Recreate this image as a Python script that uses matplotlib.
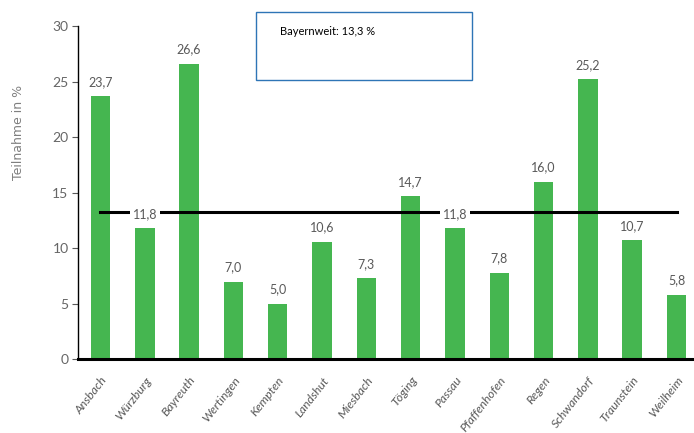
import matplotlib

matplotlib.use("Agg")
import matplotlib.pyplot as plt  # noqa: E402
from matplotlib.patches import Rectangle  # noqa: E402

# Teilnahme je Standort (%)
standorte = [
    "Ansbach", "Würzburg", "Bayreuth", "Wertingen", "Kempten", "Landshut",
    "Miesbach", "Töging", "Passau", "Pfaffenhofen", "Regen", "Schwandorf",
    "Traunstein", "Weilheim",
]
teilnahme = [23.7, 11.8, 26.6, 7.0, 5.0, 10.6, 7.3, 14.7, 11.8, 7.8, 16.0, 25.2, 10.7, 5.8]
bayernweit = 13.3
y_ticks = [0, 5, 10, 15, 20, 25, 30]

FONT = ["Lato", "DejaVu Sans"]
GRAY = "#595959"
GREEN = "#45B650"

fig = plt.figure(figsize=(6.94, 4.33), dpi=100)
ax = fig.add_axes([0.1128, 0.170, 0.894, 0.770])

x = list(range(len(standorte)))
ax.bar(x, teilnahme, width=0.44, color=GREEN, zorder=2)

# Bayern-Durchschnitt als durchgehende Linie
ax.plot([x[0], x[-1]], [bayernweit, bayernweit], color="black", lw=2.2, zorder=3)

for xi, val in zip(x, teilnahme):
    ax.annotate(
        f"{val:.1f}".replace(".", ","),
        (xi, val),
        xytext=(0, 6),
        textcoords="offset points",
        ha="center",
        va="bottom",
        fontsize=9,
        color=GRAY,
        family=FONT,
        bbox=dict(boxstyle="square,pad=0.2", fc="white", ec="none"),
        zorder=4,
    )

ax.set_xlim(-0.5, len(standorte) - 0.5)
ax.set_ylim(0, 30)
ax.set_yticks(y_ticks)
ax.set_yticklabels([str(t) for t in y_ticks], family=FONT, fontsize=10, color="#666666")
ax.tick_params(axis="y", length=4, width=0.8, color=GRAY, pad=3)
ax.set_xticks(x)
ax.set_xticklabels(
    standorte, rotation=52, ha="right", rotation_mode="anchor",
    family=FONT, style="italic", fontsize=8.8, color=GRAY,
)
ax.tick_params(axis="x", length=0, pad=11)

for side in ("top", "right"):
    ax.spines[side].set_visible(False)
ax.spines["left"].set_linewidth(1.0)
ax.spines["bottom"].set_linewidth(2.2)
ax.spines["bottom"].set_zorder(5)

fig.text(0.026, 0.695, "Teilnahme in %", rotation=90, ha="center", va="center",
         fontsize=9, color="#7f7f7f")

# Infobox oben
fig.patches.append(Rectangle((0.369, 0.815), 0.311, 0.157, transform=fig.transFigure,
                             fill=False, ec="#2E75B6", lw=1.0))
fig.text(0.403, 0.928, "Bayernweit: 13,3 %", ha="left", va="center",
         fontsize=8, color="black", family=FONT)

fig.savefig("out.png", dpi=100)
